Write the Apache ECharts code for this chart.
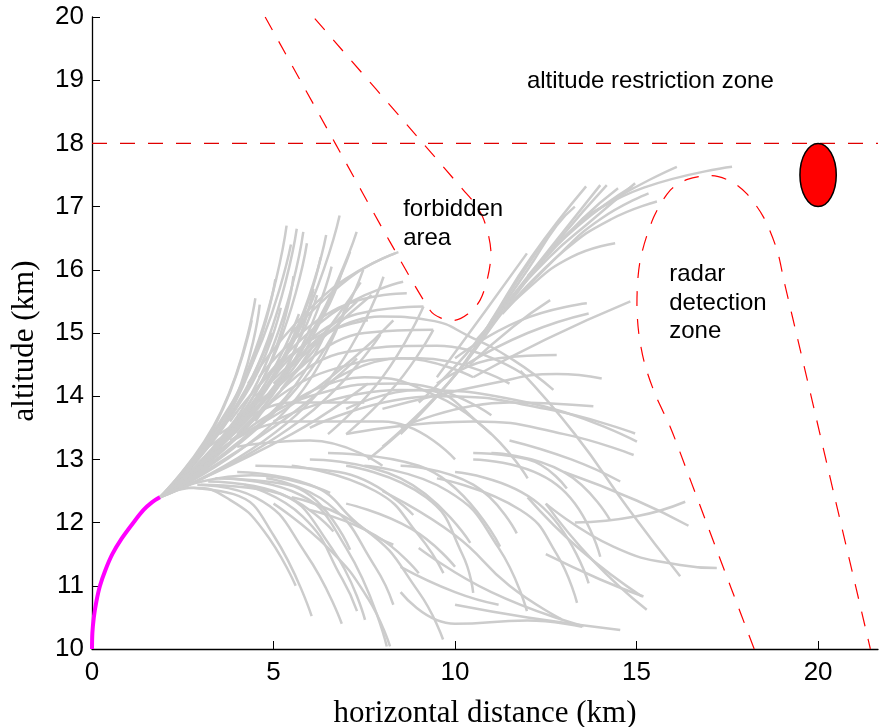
<!DOCTYPE html>
<html>
<head>
<meta charset="utf-8">
<script src="https://cdn.jsdelivr.net/npm/echarts@6/dist/echarts.min.js"></script>
<style>
  html, body { margin: 0; padding: 0; background: #ffffff; }
  #chart { width: 880px; height: 727px; }
</style>
</head>
<body>
<div id="chart"></div>
<script>
// Axis ticks (km)
const xTicks = [0, 5, 10, 15, 20];
const yTicks = [10, 11, 12, 13, 14, 15, 16, 17, 18, 19, 20];
const xMax = 21.65;

// Committed climb from the launch point
const climbPath = [[0, 10], [0.01, 10.25], [0.05, 10.5], [0.12, 10.75], [0.22, 11.0], [0.37, 11.25],
  [0.56, 11.5], [0.82, 11.75], [1.14, 12.0], [1.42, 12.2], [1.65, 12.32], [1.87, 12.4]];

// Candidate trajectories explored from the end of the climb (km, km)
const fanBranches = [
  [[1.87, 12.4], [3.55, 13.75], [4.50, 15.55]],
  [[1.87, 12.4], [3.70, 13.65], [4.62, 15.45]],
  [[1.87, 12.4], [3.80, 13.70], [4.95, 15.00]],
  [[1.87, 12.4], [4.05, 14.10], [5.36, 16.70]],
  [[1.87, 12.4], [4.25, 14.10], [5.64, 16.65]],
  [[1.87, 12.4], [4.40, 14.05], [5.82, 16.60]],
  [[1.87, 12.4], [4.50, 14.05], [5.92, 16.42]],
  [[1.87, 12.4], [4.20, 14.00], [5.20, 15.40]],
  [[1.87, 12.4], [4.45, 14.00], [5.55, 15.90]],
  [[1.87, 12.4], [4.80, 14.10], [6.30, 16.20]],
  [[1.87, 12.4], [4.95, 14.00], [6.60, 16.05]],
  [[1.87, 12.4], [5.00, 14.30], [6.82, 16.86]],
  [[1.87, 12.4], [5.15, 14.20], [7.11, 16.29]],
  [[1.87, 12.4], [5.30, 14.35], [7.29, 16.60]],
  [[1.87, 12.4], [5.45, 14.00], [7.47, 16.00]],
  [[1.87, 12.4], [4.75, 13.85], [6.10, 15.70]],
  [[1.87, 12.4], [5.05, 13.80], [6.47, 15.05]],
  [[1.87, 12.4], [5.30, 13.75], [7.00, 15.45]],
  [[1.87, 12.4], [5.70, 13.60], [7.94, 14.97]],
  [[1.87, 12.4], [5.90, 13.85], [8.03, 15.89]],
  [[1.87, 12.4], [3.40, 13.55], [4.40, 15.20]],
  [[1.87, 12.4], [3.90, 13.85], [5.05, 15.85]],
  [[1.87, 12.4], [4.30, 13.80], [5.70, 15.30]],
  [[1.87, 12.4], [4.60, 13.70], [6.20, 14.90]],
  [[1.87, 12.4], [5.10, 13.55], [7.30, 14.60]],
  [[1.87, 12.4], [4.90, 14.25], [6.45, 16.55]],
  [[1.87, 12.4], [4.15, 14.20], [5.48, 16.40]],
  [[1.87, 12.4], [5.50, 13.40], [7.60, 14.20]]
];

const upperBranches = [
  [[4.30, 14.20], [6.40, 15.60], [8.35, 16.26]],
  [[5.50, 15.00], [7.11, 15.88], [8.44, 16.28]],
  [[4.60, 14.30], [6.80, 15.40], [8.67, 15.63]],
  [[4.50, 14.10], [6.60, 15.30], [8.57, 15.81]],
  [[5.00, 14.30], [7.30, 15.30], [9.13, 15.42]],
  [[5.20, 14.10], [7.50, 15.00], [9.40, 15.05]],
  [[3.80, 13.60], [5.80, 14.80], [7.60, 15.20]],
  [[6.50, 13.40], [8.00, 14.30], [9.13, 15.42]],
  [[7.00, 13.40], [8.40, 14.20], [9.40, 15.05]],
  [[3.50, 13.40], [5.20, 14.20], [6.40, 15.30], [6.90, 16.00]],
  [[4.00, 13.70], [5.60, 14.40], [6.80, 15.30], [7.40, 15.80]],
  [[3.20, 13.20], [4.80, 14.00], [5.80, 15.00], [6.20, 15.60]],
  [[4.50, 14.00], [6.20, 14.90], [7.30, 15.50]],
  [[5.00, 14.20], [6.50, 15.00], [7.70, 15.60]],
  [[3.80, 13.30], [5.60, 13.90], [7.20, 14.60], [8.30, 15.20]]
];

const lowerBranches = [
  [[1.87, 12.40], [2.80, 12.55], [3.80, 12.36], [4.72, 11.88], [5.61, 11.00]],
  [[2.60, 12.55], [3.90, 12.45], [5.00, 11.80], [6.05, 10.52]],
  [[2.90, 12.60], [4.50, 12.40], [5.90, 11.50], [6.88, 10.40]],
  [[3.20, 12.65], [5.00, 12.50], [6.60, 11.60], [7.52, 10.46]],
  [[3.50, 12.70], [5.50, 12.50], [7.00, 11.60], [8.12, 10.04]],
  [[3.00, 12.60], [4.90, 12.50], [6.65, 11.86]],
  [[3.40, 12.70], [5.40, 12.60], [7.11, 11.57]],
  [[2.40, 12.55], [4.40, 12.75], [6.56, 12.47]],
  [[4.00, 12.80], [6.00, 12.60], [7.50, 11.90], [8.30, 11.65]],
  [[4.50, 12.90], [6.80, 12.80], [8.85, 12.12]],
  [[5.50, 12.40], [7.50, 11.90], [9.00, 10.90], [9.67, 10.15]],
  [[5.50, 12.90], [7.80, 12.50], [9.00, 11.80], [9.68, 11.20]],
  [[6.00, 13.00], [8.50, 12.70], [10.42, 11.68]],
  [[6.50, 13.10], [9.00, 12.90], [11.24, 11.62]],
  [[7.00, 12.90], [9.20, 12.40], [10.20, 11.50], [10.50, 10.89]],
  [[7.50, 12.90], [9.80, 12.50], [11.20, 11.60], [11.98, 10.60]],
  [[5.00, 12.30], [6.50, 11.60], [7.60, 10.80], [8.21, 10.04]],
  [[4.20, 12.60], [5.80, 12.10], [6.90, 11.10], [7.30, 10.60]],
  [[4.80, 12.70], [6.50, 12.30], [7.80, 11.30], [8.30, 10.70]],
  [[6.00, 12.20], [7.80, 11.80], [9.00, 11.20]],
  [[7.00, 12.30], [8.80, 11.90], [10.00, 11.30]]
];

const outerBranches = [
  [[8.00, 12.50], [10.00, 11.80], [11.50, 11.00], [12.94, 10.47]],
  [[9.00, 11.60], [11.00, 10.90], [13.54, 10.36]],
  [[10.00, 10.70], [12.00, 10.50], [14.55, 10.30]],
  [[8.50, 12.90], [10.50, 12.60], [11.70, 11.83]],
  [[9.50, 12.70], [11.80, 12.20], [12.80, 11.50], [13.36, 10.73]],
  [[10.00, 12.80], [12.30, 12.30], [13.68, 11.04]],
  [[10.50, 13.00], [12.80, 12.60], [14.00, 11.46]],
  [[11.00, 13.10], [13.00, 12.80], [14.27, 12.04]],
  [[10.50, 13.10], [12.00, 13.00], [13.08, 12.54]],
  [[11.50, 13.30], [13.20, 13.00], [14.55, 12.65]],
  [[11.80, 14.40], [13.30, 13.40], [14.80, 12.20], [16.20, 11.15]],
  [[12.00, 12.40], [13.45, 11.57], [15.15, 10.83]],
  [[12.50, 12.30], [13.80, 11.40], [15.28, 10.62]],
  [[12.50, 12.30], [14.36, 11.62], [16.20, 11.33], [17.21, 11.28]],
  [[13.00, 12.80], [15.00, 12.35], [16.43, 11.95]],
  [[13.30, 12.00], [15.00, 12.10], [16.34, 12.33]],
  [[12.50, 11.50], [14.00, 11.10], [15.19, 10.83]],
  [[8.50, 10.90], [10.00, 10.40], [12.00, 10.45], [13.50, 10.35]],
  [[8.50, 11.30], [10.00, 10.90], [11.20, 10.70]]
];

const midBranches = [
  [[3.00, 12.90], [5.50, 13.60], [8.00, 13.60], [10.00, 13.00]],
  [[3.50, 13.10], [6.00, 14.00], [8.50, 14.20], [11.00, 13.70]],
  [[4.00, 13.40], [6.50, 14.40], [9.00, 14.60], [11.50, 14.20]],
  [[4.50, 13.60], [7.00, 14.70], [9.50, 14.80], [12.00, 14.30]],
  [[6.00, 14.80], [7.94, 15.26], [9.31, 15.20], [10.42, 14.94], [11.61, 14.57], [12.71, 14.10]],
  [[5.00, 13.60], [8.50, 14.10], [12.00, 13.90], [15.01, 13.28]],
  [[6.00, 13.50], [9.50, 14.00], [12.50, 13.80], [14.96, 13.41]],
  [[7.00, 13.40], [10.50, 13.60], [13.00, 13.40], [14.92, 13.07]],
  [[8.00, 13.80], [11.00, 14.20], [12.80, 14.35], [14.04, 14.28]],
  [[8.50, 13.50], [11.50, 13.90], [13.81, 13.84]],
  [[10.50, 14.30], [12.50, 14.90], [14.83, 15.50]],
  [[10.00, 14.60], [11.80, 15.20], [13.63, 15.47]],
  [[10.30, 14.50], [12.00, 15.00], [13.68, 15.31]],
  [[9.50, 14.20], [11.20, 14.60], [12.80, 14.65]],
  [[9.50, 14.30], [10.90, 15.40], [11.98, 16.26]],
  [[10.40, 14.50], [11.60, 15.10], [12.62, 15.52]],
  [[4.00, 13.20], [6.00, 13.30], [8.00, 12.90]],
  [[5.50, 13.90], [7.50, 14.30], [9.50, 14.00], [11.00, 13.40]],
  [[6.50, 14.20], [8.50, 14.60], [10.50, 14.30]],
  [[3.60, 13.30], [5.50, 13.90], [7.50, 13.90]],
  [[7.00, 13.80], [9.00, 14.10], [10.80, 13.50], [12.00, 12.70]]
];

const bundleBranches = [
  [[7.60, 13.00], [9.50, 14.00], [11.20, 15.30], [12.70, 16.40], [14.00, 17.34]],
  [[8.00, 13.20], [9.80, 14.20], [11.40, 15.40], [12.90, 16.50], [14.18, 17.34]],
  [[11.00, 15.20], [12.60, 16.20], [13.80, 16.80], [14.96, 17.37]],
  [[11.30, 15.30], [12.80, 16.20], [14.00, 16.80], [15.33, 17.21]],
  [[11.60, 15.50], [13.00, 16.30], [14.30, 16.80], [15.56, 17.08]],
  [[12.50, 16.20], [13.80, 16.90], [16.11, 17.63]],
  [[13.50, 16.80], [15.20, 17.30], [17.63, 17.63]],
  [[10.60, 14.90], [12.00, 15.70], [13.20, 16.20], [14.41, 16.42]],
  [[8.50, 13.40], [10.20, 14.47], [11.00, 15.20], [12.10, 16.20], [13.61, 17.32]],
  [[10.80, 15.00], [12.00, 16.00], [12.80, 16.70], [13.30, 17.00]],
  [[9.00, 13.90], [10.50, 14.80], [11.80, 15.90], [12.50, 16.50]],
  [[12.20, 16.00], [13.50, 16.80], [14.49, 17.29]],
  [[12.00, 15.90], [13.40, 16.70], [14.88, 17.32]]
];

// Constraints
const ceilingAltitude = 18;
const forbiddenBoundary = [
  [4.77, 20], [6.70, 18.0], [8.20, 16.45], [9.31, 15.36], [9.60, 15.24], [9.96, 15.20],
  [10.35, 15.30], [10.69, 15.52], [10.90, 15.88], [10.99, 16.26], [10.92, 16.55],
  [10.75, 16.85], [10.50, 17.08], [10.23, 17.26], [9.12, 18.0], [6.10, 20]
];
const radarBoundary = [
  [18.24, 10], [17.60, 10.97], [16.95, 11.96], [16.40, 12.80], [15.93, 13.51], [15.52, 14.02],
  [15.22, 14.52], [15.06, 15.00], [15.01, 15.46], [15.10, 16.15], [15.47, 16.83],
  [15.93, 17.26], [16.40, 17.43], [17.05, 17.49], [17.60, 17.40], [18.04, 17.20],
  [18.50, 16.83], [18.87, 16.31], [19.07, 15.80], [19.51, 14.73], [19.95, 13.65],
  [20.45, 12.42], [20.95, 11.20], [21.44, 10]
];
const goal = [[20, 17.5, 0.5, 0.5]];   // centre x, centre y, half-width, half-height (km)

const zoneLabels = [
  { x: 11.98, y: 18.98, text: 'altitude restriction zone' },
  { x: 8.57, y: 16.73, text: 'forbidden\narea' },
  { x: 15.90, y: 15.47, text: 'radar\ndetection\nzone' }
];

const series = [];
[fanBranches, upperBranches, lowerBranches, outerBranches, midBranches, bundleBranches]
  .forEach(group => group.forEach(branch => {
    series.push({
      type: 'line', data: branch, smooth: 0.5, symbol: 'none', silent: true, z: 1,
      lineStyle: { color: '#cccccc', width: 2.5 }
    });
  }));

series.push({
  type: 'line', data: climbPath, smooth: 0.3, symbol: 'none', silent: true, z: 3,
  lineStyle: { color: '#ff00ff', width: 4 }
});

const dashStyle = { color: '#ff0000', width: 1.2, type: [15, 13] };
series.push({
  type: 'line', data: [[0, ceilingAltitude], [xMax, ceilingAltitude]], symbol: 'none', silent: true, z: 4,
  lineStyle: Object.assign({}, dashStyle, { color: '#e00000' })
});
series.push({
  type: 'line', data: forbiddenBoundary, smooth: 0.3, symbol: 'none', silent: true, z: 4,
  lineStyle: dashStyle
});
series.push({
  type: 'line', data: radarBoundary, smooth: 0.3, symbol: 'none', silent: true, z: 4,
  lineStyle: dashStyle
});

series.push({
  type: 'custom', silent: true, z: 5, data: goal,
  renderItem: function (params, api) {
    const c = api.coord([api.value(0), api.value(1)]);
    const s = api.size([api.value(2), api.value(3)]);
    return {
      type: 'ellipse',
      shape: { cx: c[0], cy: c[1], rx: s[0], ry: s[1] },
      style: { fill: '#ff0000', stroke: '#000000', lineWidth: 1.5 }
    };
  }
});

series.push({
  type: 'custom', silent: true, z: 6,
  data: zoneLabels.map(d => [d.x, d.y]),
  renderItem: function (params, api) {
    const p = api.coord([api.value(0), api.value(1)]);
    return {
      type: 'text', x: p[0], y: p[1],
      style: {
        text: zoneLabels[params.dataIndex].text,
        fill: '#000000', fontSize: 24, fontFamily: 'Liberation Sans, Arial, sans-serif',
        align: 'left', verticalAlign: 'middle', lineHeight: 28.5
      }
    };
  }
});

const chart = echarts.init(document.getElementById('chart'), null, { renderer: 'canvas' });
chart.setOption({
  animation: false,
  backgroundColor: '#ffffff',
  grid: { left: 92, top: 17, width: 786, height: 632, containLabel: false, outerBoundsMode: 'none' },
  xAxis: {
    type: 'value', min: 0, max: xMax, interval: 5,
    axisLine: { onZero: false, lineStyle: { color: '#000000', width: 1.3 } },
    axisTick: { inside: true, length: 8, customValues: xTicks, lineStyle: { color: '#000000', width: 1 } },
    axisLabel: { customValues: xTicks, fontSize: 26, color: '#000000', fontFamily: 'Liberation Sans, Arial, sans-serif', margin: 11 },
    splitLine: { show: false },
    name: 'horizontal distance (km)', nameLocation: 'middle', nameGap: 49,
    nameTextStyle: { fontFamily: 'Liberation Serif, Times New Roman, serif', fontSize: 31, color: '#000000' }
  },
  yAxis: {
    type: 'value', min: 10, max: 20, interval: 1,
    axisLine: { onZero: false, lineStyle: { color: '#000000', width: 1.3 } },
    axisTick: { inside: true, length: 8, customValues: yTicks, lineStyle: { color: '#000000', width: 1 } },
    axisLabel: { customValues: yTicks, fontSize: 26, color: '#000000', fontFamily: 'Liberation Sans, Arial, sans-serif', margin: 8 },
    splitLine: { show: false },
    name: 'altitude (km)', nameLocation: 'middle', nameGap: 52,
    nameTextStyle: { fontFamily: 'Liberation Serif, Times New Roman, serif', fontSize: 31, color: '#000000', padding: [0, 16, 0, 0] }
  },
  series: series
});
</script>
</body>
</html>
